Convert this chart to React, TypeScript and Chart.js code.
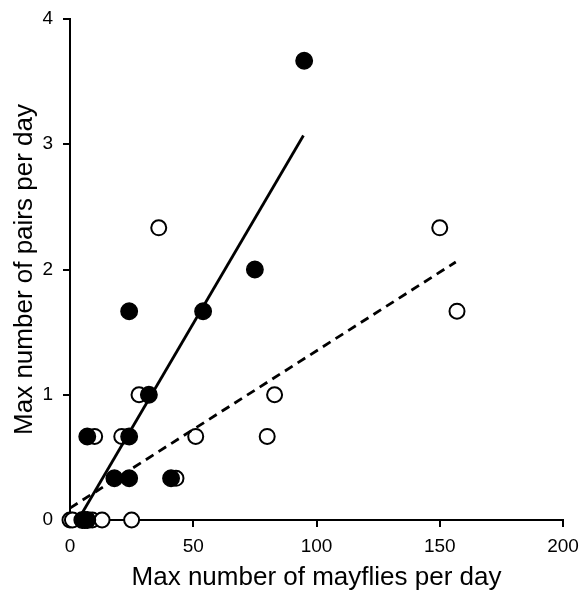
import React, { useEffect, useRef } from "react";
import { Chart, registerables } from "chart.js";

Chart.register(...registerables);

// Filled circles (series 1)
const filledX = [95, 75, 54, 24, 32, 7, 24, 18, 24, 41, 5, 6, 7];
const filledY = [3.667, 2.0, 1.667, 1.667, 1.0, 0.667, 0.667, 0.333, 0.333, 0.333, 0, 0, 0];

// Open circles (series 2)
const openX = [150, 36, 157, 83, 28, 80, 51, 21, 10, 43, 0, 1, 9, 13, 25];
const openY = [2.333, 2.333, 1.667, 1.0, 1.0, 0.667, 0.667, 0.667, 0.667, 0.333, 0, 0, 0, 0, 0];

// Fitted lines (end points)
const solidLineX = [5, 94.7];
const solidLineY = [0.058, 3.07];
const dashedLineX = [0, 156.5];
const dashedLineY = [0.095, 2.06];

const xTicks = [0, 50, 100, 150, 200];
const yTicks = [0, 1, 2, 3, 4];

const xTitle = "Max number of mayflies per day";
const yTitle = "Max number of pairs per day";

const pts = (xs: number[], ys: number[]) => xs.map((x, i) => ({ x, y: ys[i] }));

export default function App() {
  const ref = useRef<HTMLCanvasElement | null>(null);

  useEffect(() => {
    if (!ref.current) return;
    const FONT = "'Liberation Sans', Arial, sans-serif";
    const chart = new Chart(ref.current, {
      type: "scatter",
      data: {
        datasets: [
          {
            label: "solid",
            data: pts(solidLineX, solidLineY),
            showLine: true,
            borderColor: "#000",
            borderWidth: 2.8,
            pointRadius: 0,
            order: 0,
            clip: false,
          } as any,
          {
            label: "dashed",
            data: pts(dashedLineX, dashedLineY),
            showLine: true,
            borderColor: "#000",
            borderWidth: 2.8,
            borderDash: [9, 6],
            pointRadius: 0,
            order: 1,
            clip: false,
          } as any,
          {
            label: "filled",
            data: pts(filledX, filledY),
            backgroundColor: "#000",
            borderColor: "#000",
            borderWidth: 1.5,
            pointRadius: 8.2,
            order: 2,
            clip: false,
          } as any,
          {
            label: "open",
            data: pts(openX, openY),
            backgroundColor: "#fff",
            borderColor: "#000",
            borderWidth: 2,
            pointRadius: 7.5,
            order: 3,
            clip: false,
          } as any,
        ],
      },
      options: {
        responsive: false,
        animation: false,
        layout: { padding: { top: 19, right: 17, left: 0, bottom: 0 } },
        plugins: { legend: { display: false }, tooltip: { enabled: false } },
        scales: {
          x: {
            type: "linear",
            min: 0,
            max: 200,
            afterFit: (s: any) => {
              s.height = 74;
              s.paddingRight = 0;
              s.paddingLeft = 0;
            },
            afterBuildTicks: (s: any) => {
              s.ticks = xTicks.map((v) => ({ value: v }));
            },
            border: { display: true, color: "#000", width: 2 },
            grid: { display: true, drawOnChartArea: false, drawTicks: true, tickLength: 7, color: "#000", lineWidth: 2 },
            ticks: { color: "#000", font: { family: FONT, size: 19 }, padding: 8, maxRotation: 0 },
            title: {
              display: true,
              text: xTitle,
              color: "#000",
              font: { family: FONT, size: 26 },
              padding: { top: 1, bottom: 1 },
            },
          },
          y: {
            type: "linear",
            min: 0,
            max: 4,
            afterFit: (s: any) => {
              s.width = 70;
              s.paddingTop = 0;
              s.paddingBottom = 0;
            },
            afterBuildTicks: (s: any) => {
              s.ticks = yTicks.map((v) => ({ value: v }));
            },
            border: { display: true, color: "#000", width: 2 },
            grid: { display: true, drawOnChartArea: false, drawTicks: true, tickLength: 7, color: "#000", lineWidth: 2 },
            ticks: { color: "#000", font: { family: FONT, size: 19 }, padding: 10 },
            title: {
              display: true,
              text: yTitle,
              color: "#000",
              font: { family: FONT, size: 26 },
              padding: { top: 9.5, bottom: 9.5 },
            },
          },
        },
      },
    });
    return () => chart.destroy();
  }, []);

  return (
    <div style={{ position: "absolute", left: 0, top: 0, width: 580, height: 594, background: "#fff" }}>
      <canvas ref={ref} width={580} height={594} style={{ width: 580, height: 594 }} />
    </div>
  );
}
